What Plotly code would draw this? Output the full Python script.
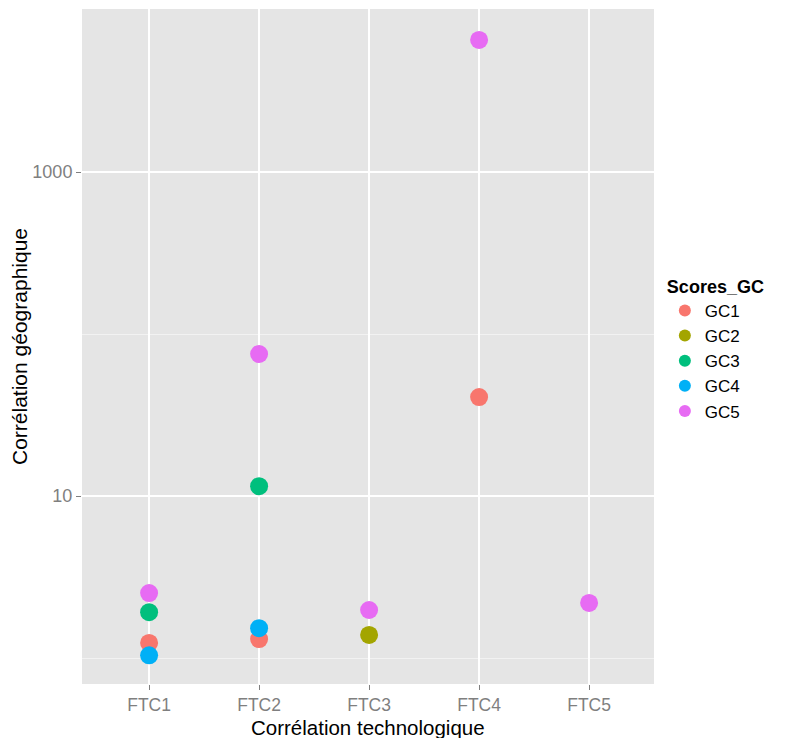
import plotly.graph_objects as go

categories = ["FTC1", "FTC2", "FTC3", "FTC4", "FTC5"]
series_names = ["GC1", "GC2", "GC3", "GC4", "GC5"]
series_x = {
    "GC1": ["FTC1", "FTC2", "FTC4"],
    "GC2": ["FTC3"],
    "GC3": ["FTC1", "FTC2"],
    "GC4": ["FTC1", "FTC2"],
    "GC5": ["FTC1", "FTC2", "FTC3", "FTC4", "FTC5"],
}
series_y = {
    "GC1": [1.24, 1.31, 40.8],
    "GC2": [1.39],
    "GC3": [1.92, 11.5],
    "GC4": [1.04, 1.53],
    "GC5": [2.52, 75.3, 1.98, 6530, 2.19],
}
colors = ["#F8766D", "#A3A500", "#00BF7D", "#00B0F6", "#E76BF3"]
y_tickvals = [10, 1000]
y_ticktext = ["10", "1000"]
y_minorvals = [1, 100, 10000]

fig = go.Figure()
for name, col in zip(series_names, colors):
    fig.add_trace(go.Scatter(
        x=series_x[name], y=series_y[name], mode="markers", name=name,
        marker=dict(color=col, size=18, line=dict(width=0)),
    ))

fig.update_layout(
    width=781, height=730,
    margin=dict(l=74, r=135, t=1, b=54),
    paper_bgcolor="white", plot_bgcolor="#E5E5E5",
    font=dict(family="Liberation Sans, Arial, sans-serif", color="black"),
    showlegend=True,
    legend=dict(
        title=dict(text="<b>Scores_GC</b>", font=dict(size=18, color="black")),
        font=dict(size=17, color="black"),
        x=1.019, xanchor="left", y=0.614, yanchor="top",
        bgcolor="white", itemsizing="constant", tracegroupgap=0,
    ),
    annotations=[dict(
        text="Corrélation technologique", xref="paper", yref="paper",
        x=0.5, y=-0.064, xanchor="center", yanchor="middle", showarrow=False,
        font=dict(size=20.5, color="black"),
    )],
)
fig.update_xaxes(
    type="category", categoryorder="array", categoryarray=categories,
    range=[-0.61, 4.59], showgrid=True, gridcolor="white", gridwidth=1.5,
    zeroline=False, showline=False, automargin=False,
    ticks="outside", ticklen=5, tickcolor="#7F7F7F", tickwidth=1,
    tickfont=dict(size=17.5, color="#7F7F7F"),
)
fig.update_yaxes(
    type="log", range=[-0.16, 4.006],
    tickvals=y_tickvals, ticktext=y_ticktext,
    showgrid=True, gridcolor="white", gridwidth=1.5,
    minor=dict(tickvals=y_minorvals, showgrid=True, gridcolor="#F2F2F2", gridwidth=0.8, ticks=""),
    zeroline=False, showline=False, automargin=False,
    ticks="outside", ticklen=5, tickcolor="#7F7F7F", tickwidth=1,
    tickfont=dict(size=18, color="#7F7F7F"),
    title=dict(text="Corrélation géographique", font=dict(size=21, color="black"), standoff=13),
)

fig.write_html("out.html")
